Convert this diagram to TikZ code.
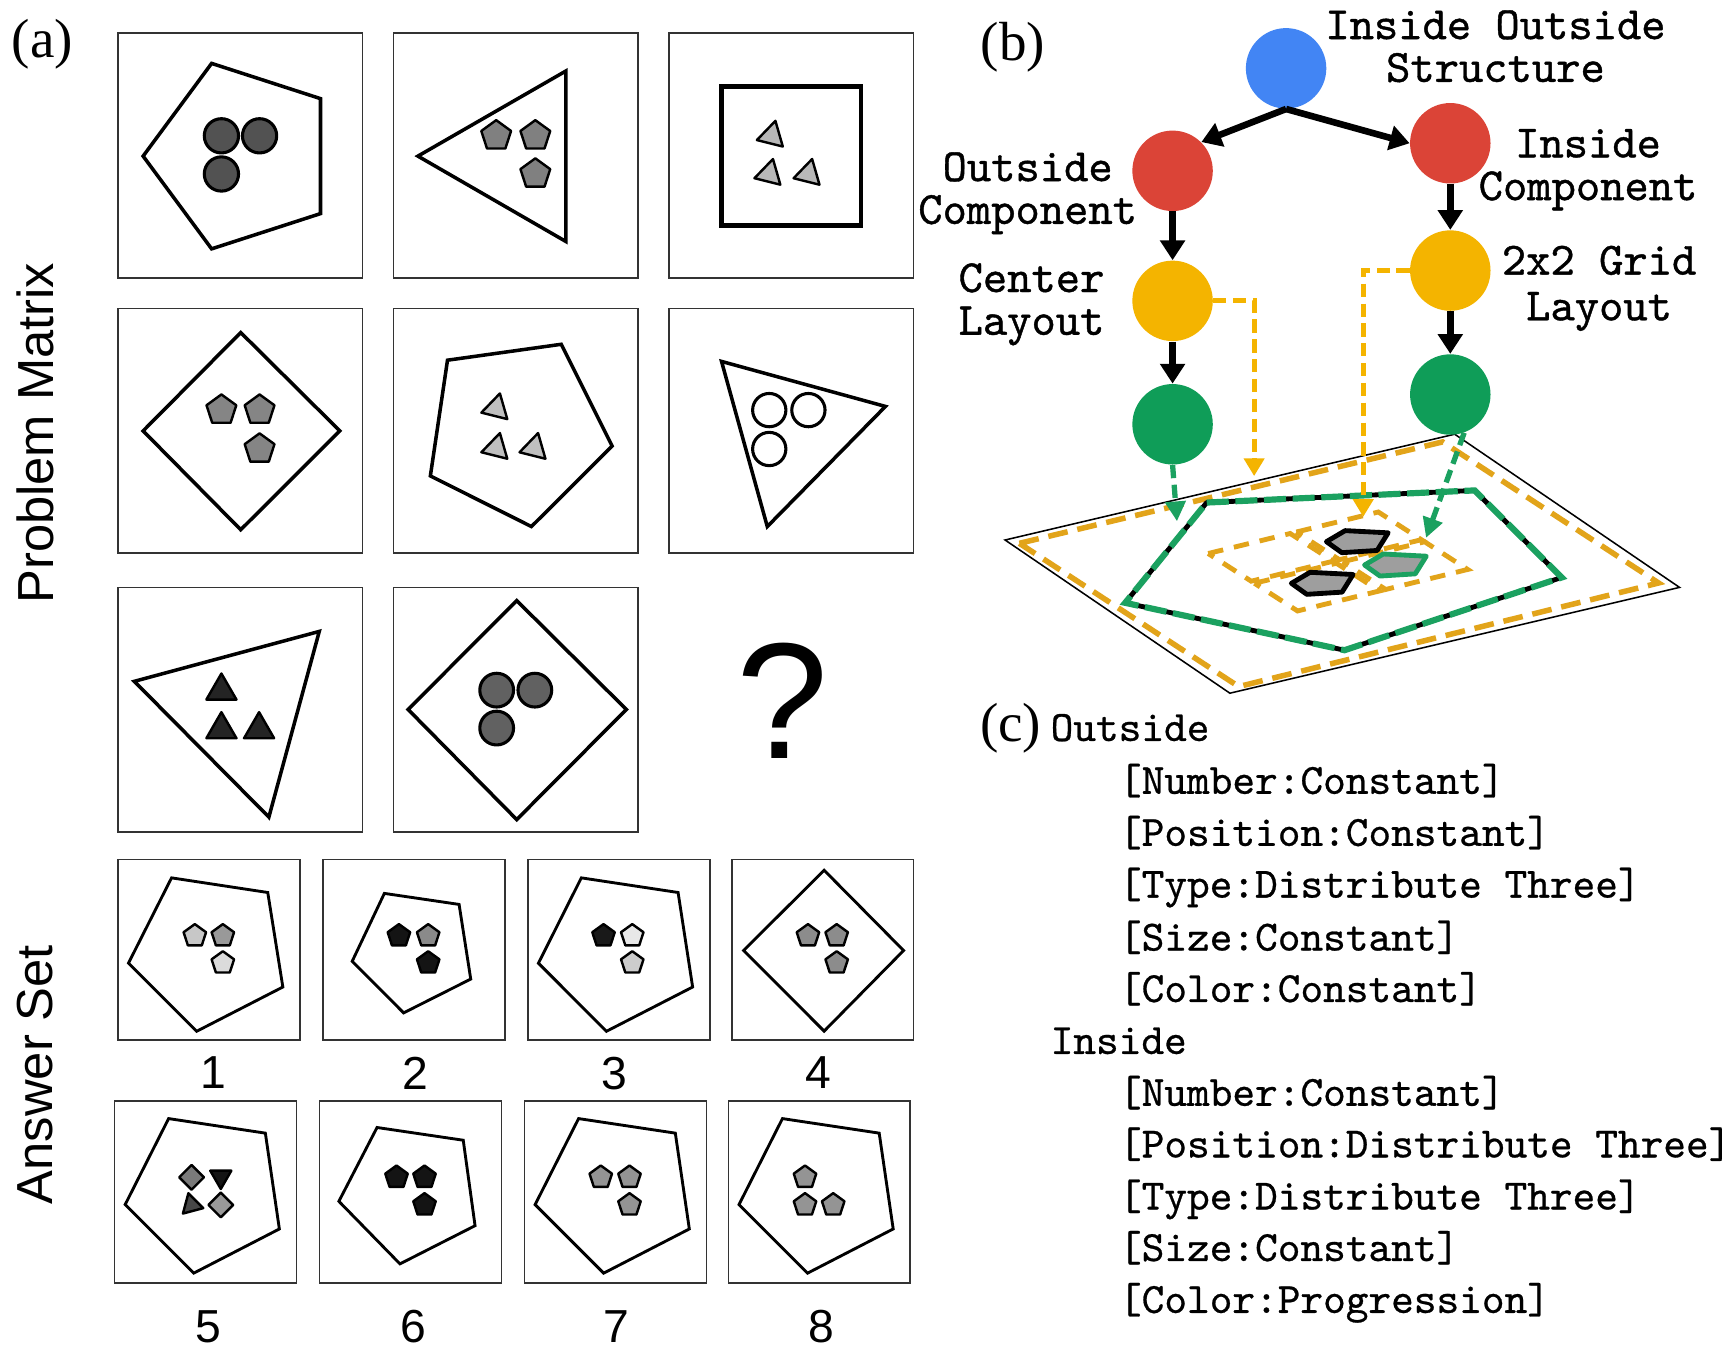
\documentclass[tikz,border=0pt]{standalone}
\usepackage{fontspec}
\newfontfamily\serifL{Liberation Serif}
\newfontfamily\sansL{Liberation Sans}
\newfontfamily\monoB[FakeBold=0.9]{lmmono10-regular.otf}
\newfontfamily\monoC[FakeBold=0.6]{lmmono10-regular.otf}
\usetikzlibrary{arrows.meta}
\definecolor{gblue}{HTML}{4285F4}
\definecolor{gred}{HTML}{DB4437}
\definecolor{gyel}{HTML}{F4B400}
\definecolor{ggreen}{HTML}{0F9D58}
\definecolor{dgold}{HTML}{E2A41A}
\definecolor{dgreen}{HTML}{1BA160}
\tikzset{
 boxframe/.style={draw=black!80, line width=0.8pt},
 bigshape/.style={draw=black, line width=1.6pt, fill=white},
 ansshape/.style={draw=black, line width=1.3pt, fill=white},
 smallshape/.style={draw=black, line width=1.1pt, line join=round},
 lbl/.style={font={\serifL\fontsize{25pt}{30pt}\selectfont}, inner sep=0},
 sidelbl/.style={font={\sansL\fontsize{23pt}{28pt}\selectfont}, inner sep=0, rotate=90},
 numlbl/.style={font={\sansL\fontsize{21pt}{25pt}\selectfont}, inner sep=0},
 btxt/.style={inner sep=0, align=center, anchor=center},
 ctxt/.style={font={\monoC\fontsize{19.6pt}{23pt}\selectfont}, inner sep=0, anchor=base west},
 bnode/.style={circle, minimum size=36.5pt, inner sep=0, draw=none},
 barrow/.style={line width=3pt, -{Triangle[length=9pt,width=11pt]}},
 oarrow/.style={draw=gyel, line width=2.2pt, dash pattern=on 6pt off 3pt, -{Triangle[length=8pt,width=9pt,fill=gyel]}},
 garrow/.style={draw=dgreen, line width=2.4pt, dash pattern=on 6pt off 3pt, -{Triangle[length=9pt,width=9pt,fill=dgreen]}},
 golddash/.style={draw=dgold, line width=2.5pt, dash pattern=on 9pt off 4.5pt},
 griddash/.style={draw=dgold, line width=2.2pt, dash pattern=on 7pt off 5pt},
}
\newcommand\bfnt[1]{\monoB\fontsize{21pt}{#1}\selectfont}
\newcommand\pentS[4]{\filldraw[fill=#4, smallshape] (#1,#2) +(270:#3) -- +(342:#3) -- +(54:#3) -- +(126:#3) -- +(198:#3) -- cycle;}
\newcommand\triS[5]{\filldraw[fill=#5, smallshape] (#1,#2) +({270+(#4)}:#3) -- +({30+(#4)}:#3) -- +({150+(#4)}:#3) -- cycle;}
\newcommand\diaS[4]{\filldraw[fill=#4, smallshape] (#1,#2) +(0:#3) -- +(90:#3) -- +(180:#3) -- +(270:#3) -- cycle;}
\newcommand\circS[4]{\filldraw[fill=#4, smallshape, line width=1.4pt] (#1,#2) circle[radius=#3];}
\newcommand\ppent[3]{\filldraw[fill=black!38, draw=#3, line width=2.2pt, line join=round] (#1,#2) +(-29,0) -- +(-12,-10) -- +(27,-8) -- +(17,8) -- +(-15,10) -- cycle;}
\newcommand\gcell[2]{\draw[griddash] (#1,#2) ++(-56.7,-3.5) -- ++(74.4,-18.14) -- ++(39.06,25.12) -- ++(-74.4,18.14) -- cycle;}
\begin{document}
\begin{tikzpicture}[x=0.5pt,y=-0.5pt]
\fill[white] (0,0) rectangle (1568,1236);
\useasboundingbox (0,0) rectangle (1568,1236);

% ---------------- panel (a) ----------------
\node[lbl] (la) at (38.6,40) {(a)};
\node[sidelbl] (pm) at (32,393) {Problem Matrix};
\node[sidelbl] (as) at (32,975) {Answer Set};

% row 1
\begin{scope}[shift={(107,30)}, x=111pt, y=-111pt]
 \draw[boxframe] (0,0) rectangle (1,1);
 \draw[bigshape] (0.383,0.124) -- (0.828,0.268) -- (0.828,0.738) -- (0.383,0.882) -- (0.103,0.503) -- cycle;
 \circS{0.423}{0.42}{0.07}{black!68}
 \circS{0.579}{0.42}{0.07}{black!68}
 \circS{0.423}{0.576}{0.07}{black!68}
\end{scope}
\begin{scope}[shift={(357,30)}, x=111pt, y=-111pt]
 \draw[boxframe] (0,0) rectangle (1,1);
 \draw[bigshape] (0.705,0.155) -- (0.705,0.852) -- (0.100,0.503) -- cycle;
 \pentS{0.420}{0.42}{0.064}{black!50}
 \pentS{0.580}{0.42}{0.064}{black!50}
 \pentS{0.580}{0.576}{0.064}{black!50}
\end{scope}
\begin{scope}[shift={(607,30)}, x=111pt, y=-111pt]
 \draw[boxframe] (0,0) rectangle (1,1);
 \draw[bigshape, line width=2.2pt] (0.215,0.218) rectangle (0.785,0.786);
 \triS{0.42}{0.42}{0.063}{14}{black!28}
 \triS{0.41}{0.576}{0.063}{14}{black!28}
 \triS{0.57}{0.576}{0.063}{14}{black!28}
\end{scope}
% row 2
\begin{scope}[shift={(107,280)}, x=111pt, y=-111pt]
 \draw[boxframe] (0,0) rectangle (1,1);
 \draw[bigshape] (0.502,0.098) -- (0.907,0.500) -- (0.502,0.904) -- (0.103,0.500) -- cycle;
 \pentS{0.423}{0.415}{0.064}{black!48}
 \pentS{0.579}{0.415}{0.064}{black!48}
 \pentS{0.579}{0.574}{0.064}{black!48}
\end{scope}
\begin{scope}[shift={(357,280)}, x=111pt, y=-111pt]
 \draw[boxframe] (0,0) rectangle (1,1);
 \draw[bigshape] (0.221,0.211) -- (0.686,0.146) -- (0.894,0.562) -- (0.564,0.891) -- (0.151,0.684) -- cycle;
 \triS{0.420}{0.408}{0.063}{14}{black!25}
 \triS{0.420}{0.57}{0.063}{14}{black!25}
 \triS{0.576}{0.57}{0.063}{14}{black!25}
\end{scope}
\begin{scope}[shift={(607,280)}, x=111pt, y=-111pt]
 \draw[boxframe] (0,0) rectangle (1,1);
 \draw[bigshape] (0.215,0.216) -- (0.885,0.40) -- (0.402,0.891) -- cycle;
 \circS{0.41}{0.415}{0.068}{white}
 \circS{0.57}{0.415}{0.068}{white}
 \circS{0.41}{0.574}{0.068}{white}
\end{scope}
% row 3
\begin{scope}[shift={(107,533)}, x=111pt, y=-111pt]
 \draw[boxframe] (0,0) rectangle (1,1);
 \draw[bigshape] (0.067,0.384) -- (0.823,0.180) -- (0.617,0.939) -- cycle;
 \triS{0.423}{0.423}{0.071}{0}{black!86}
 \triS{0.423}{0.581}{0.071}{0}{black!86}
 \triS{0.577}{0.581}{0.071}{0}{black!86}
\end{scope}
\begin{scope}[shift={(357,533)}, x=111pt, y=-111pt]
 \draw[boxframe] (0,0) rectangle (1,1);
 \draw[bigshape] (0.504,0.054) -- (0.952,0.499) -- (0.504,0.949) -- (0.060,0.499) -- cycle;
 \circS{0.422}{0.42}{0.069}{black!62}
 \circS{0.578}{0.42}{0.069}{black!62}
 \circS{0.422}{0.575}{0.069}{black!62}
\end{scope}
\node[font={\sansL\fontsize{75pt}{80pt}\selectfont}, inner sep=0] (qm) at (710,636) {?};

% answer set row 1
\begin{scope}[shift={(107,780)}, x=82.5pt, y=-82pt]
 \draw[boxframe] (0,0) rectangle (1,1);
 \draw[ansshape] (0.295,0.101) -- (0.824,0.182) -- (0.907,0.705) -- (0.433,0.950) -- (0.058,0.573) -- cycle;
 \pentS{0.423}{0.422}{0.065}{black!22}
 \pentS{0.577}{0.422}{0.065}{black!40}
 \pentS{0.577}{0.572}{0.065}{black!14}
\end{scope}
\begin{scope}[shift={(293,780)}, x=82.5pt, y=-82pt]
 \draw[boxframe] (0,0) rectangle (1,1);
 \draw[ansshape] (0.338,0.187) -- (0.749,0.248) -- (0.813,0.661) -- (0.444,0.848) -- (0.161,0.563) -- cycle;
 \pentS{0.418}{0.422}{0.065}{black!92}
 \pentS{0.579}{0.422}{0.065}{black!46}
 \pentS{0.579}{0.572}{0.065}{black!92}
\end{scope}
\begin{scope}[shift={(479,780)}, x=82.5pt, y=-82pt]
 \draw[boxframe] (0,0) rectangle (1,1);
 \draw[ansshape] (0.294,0.101) -- (0.826,0.182) -- (0.906,0.705) -- (0.432,0.950) -- (0.058,0.573) -- cycle;
 \pentS{0.416}{0.422}{0.065}{black!90}
 \pentS{0.574}{0.422}{0.065}{black!9}
 \pentS{0.574}{0.572}{0.065}{black!20}
\end{scope}
\begin{scope}[shift={(664,780)}, x=82.5pt, y=-82pt]
 \draw[boxframe] (0,0) rectangle (1,1);
 \draw[ansshape] (0.508,0.059) -- (0.945,0.503) -- (0.508,0.949) -- (0.065,0.503) -- cycle;
 \pentS{0.419}{0.422}{0.065}{black!45}
 \pentS{0.577}{0.422}{0.065}{black!45}
 \pentS{0.577}{0.572}{0.065}{black!45}
\end{scope}
% answer set row 2
\begin{scope}[shift={(104,999)}, x=82.5pt, y=-82.5pt]
 \draw[boxframe] (0,0) rectangle (1,1);
 \draw[ansshape] (0.297,0.097) -- (0.829,0.177) -- (0.906,0.704) -- (0.435,0.947) -- (0.058,0.570) -- cycle;
 \diaS{0.423}{0.42}{0.068}{black!52}
 \triS{0.584}{0.417}{0.067}{180}{black!92}
 \triS{0.423}{0.572}{0.067}{-15}{black!72}
 \diaS{0.584}{0.572}{0.068}{black!40}
\end{scope}
\begin{scope}[shift={(290,999)}, x=82.5pt, y=-82.5pt]
 \draw[boxframe] (0,0) rectangle (1,1);
 \draw[ansshape] (0.316,0.146) -- (0.790,0.216) -- (0.855,0.686) -- (0.442,0.896) -- (0.106,0.552) -- cycle;
 \pentS{0.423}{0.42}{0.065}{black!92}
 \pentS{0.577}{0.42}{0.065}{black!92}
 \pentS{0.577}{0.572}{0.065}{black!92}
\end{scope}
\begin{scope}[shift={(476,999)}, x=82.5pt, y=-82.5pt]
 \draw[boxframe] (0,0) rectangle (1,1);
 \draw[ansshape] (0.297,0.097) -- (0.829,0.177) -- (0.906,0.704) -- (0.435,0.947) -- (0.058,0.570) -- cycle;
 \pentS{0.419}{0.42}{0.065}{black!42}
 \pentS{0.577}{0.42}{0.065}{black!42}
 \pentS{0.577}{0.572}{0.065}{black!42}
\end{scope}
\begin{scope}[shift={(661,999)}, x=82.5pt, y=-82.5pt]
 \draw[boxframe] (0,0) rectangle (1,1);
 \draw[ansshape] (0.297,0.097) -- (0.829,0.177) -- (0.906,0.704) -- (0.435,0.947) -- (0.058,0.570) -- cycle;
 \pentS{0.421}{0.42}{0.065}{black!42}
 \pentS{0.421}{0.572}{0.065}{black!42}
 \pentS{0.576}{0.572}{0.065}{black!42}
\end{scope}
\node[numlbl] (n1) at (194,973.7) {1};
\node[numlbl] (n2) at (377,973.7) {2};
\node[numlbl] (n3) at (557.5,973.7) {3};
\node[numlbl] (n4) at (742.8,973.7) {4};
\node[numlbl] (n5) at (189,1204) {5};
\node[numlbl] (n6) at (375.4,1204) {6};
\node[numlbl] (n7) at (559,1204) {7};
\node[numlbl] (n8) at (745.5,1204) {8};

% ---------------- panel (b) ----------------
\node[lbl] (lb) at (919,43) {(b)};
% plane
\draw[line width=0.7pt] (912,490) -- (1320,394) -- (1524,533) -- (1116,629) -- cycle;
\draw[golddash] (925,493) -- (1309,401) -- (1505,529) -- (1124,623) -- cycle;
\draw[line width=2.2pt, line join=round] (1095,456) -- (1338,445) -- (1417,524) -- (1220,590) -- (1021,547) -- cycle;
\draw[draw=dgreen, line width=2.8pt, dash pattern=on 10pt off 3pt] (1095,456) -- (1338,445) -- (1417,524) -- (1220,590) -- (1021,547) -- cycle;
\gcell{1153}{505.75}
\gcell{1233}{486.25}
\gcell{1195}{532.75}
\gcell{1275}{513.25}
\ppent{1232.6}{491.5}{black}
\ppent{1200.8}{529.3}{black}
\ppent{1267.2}{512.7}{dgreen}
% tree nodes
\node[bnode, fill=gblue] (top) at (1167,62) {};
\node[bnode, fill=gred] (oc) at (1064,155) {};
\node[bnode, fill=gred] (ic) at (1316,130) {};
\node[bnode, fill=gyel] (cl) at (1064,273) {};
\node[bnode, fill=gyel] (gl) at (1316,245.5) {};
\node[bnode, fill=ggreen] (ce) at (1064,385) {};
\node[bnode, fill=ggreen] (ge) at (1316,358) {};
\draw[barrow] (top.south) -- (oc.north east);
\draw[barrow] (top.south) -- (ic.west);
\draw[barrow] (oc) -- (cl);
\draw[barrow] (cl) -- (ce);
\draw[barrow] (ic) -- (gl);
\draw[barrow] (gl) -- (ge);
\coordinate (olt) at (1138,432);
\coordinate (ort) at (1237,469);
\draw[oarrow] (cl.east) -| (olt);
\draw[oarrow] (gl.west) -| (ort);
\coordinate (glt) at (1068,473);
\coordinate (grt) at (1294,488);
\draw[garrow] (ce.south) -- (glt);
\draw[garrow] (ge.-70) -- (grt);
% labels
\node[btxt, font={\bfnt{19.4pt}}] (tio) at (1357,42) {Inside Outside\\Structure};
\node[btxt, font={\bfnt{19.4pt}}] (toc) at (932.5,175.3) {Outside\\Component};
\node[btxt, font={\bfnt{19.4pt}}] (tcl) at (936,276.1) {Center\\Layout};
\node[btxt, font={\bfnt{19.4pt}}] (tic) at (1441,154) {Inside\\Component};
\node[btxt, font={\bfnt{20.75pt}}] (tgl) at (1451,261.6) {2x2 Grid\\Layout};

% ---------------- panel (c) ----------------
\node[lbl] (lc) at (917,661) {(c)};
\node[ctxt] (c1) at (953,672.3) {Outside};
\node[ctxt] (c2) at (1015,720.3) {[Number:Constant]};
\node[ctxt] (c3) at (1015,767.5) {[Position:Constant]};
\node[ctxt] (c4) at (1015,814.5) {[Type:Distribute Three]};
\node[ctxt] (c5) at (1015,862.5) {[Size:Constant]};
\node[ctxt] (c6) at (1015,909.2) {[Color:Constant]};
\node[ctxt] (c7) at (953,956.3) {Inside};
\node[ctxt] (c8) at (1015,1003.4) {[Number:Constant]};
\node[ctxt] (c9) at (1015,1050.2) {[Position:Distribute Three]};
\node[ctxt] (c10) at (1015,1097.5) {[Type:Distribute Three]};
\node[ctxt] (c11) at (1015,1144.2) {[Size:Constant]};
\node[ctxt] (c12) at (1015,1191.3) {[Color:Progression]};
\end{tikzpicture}
\end{document}
